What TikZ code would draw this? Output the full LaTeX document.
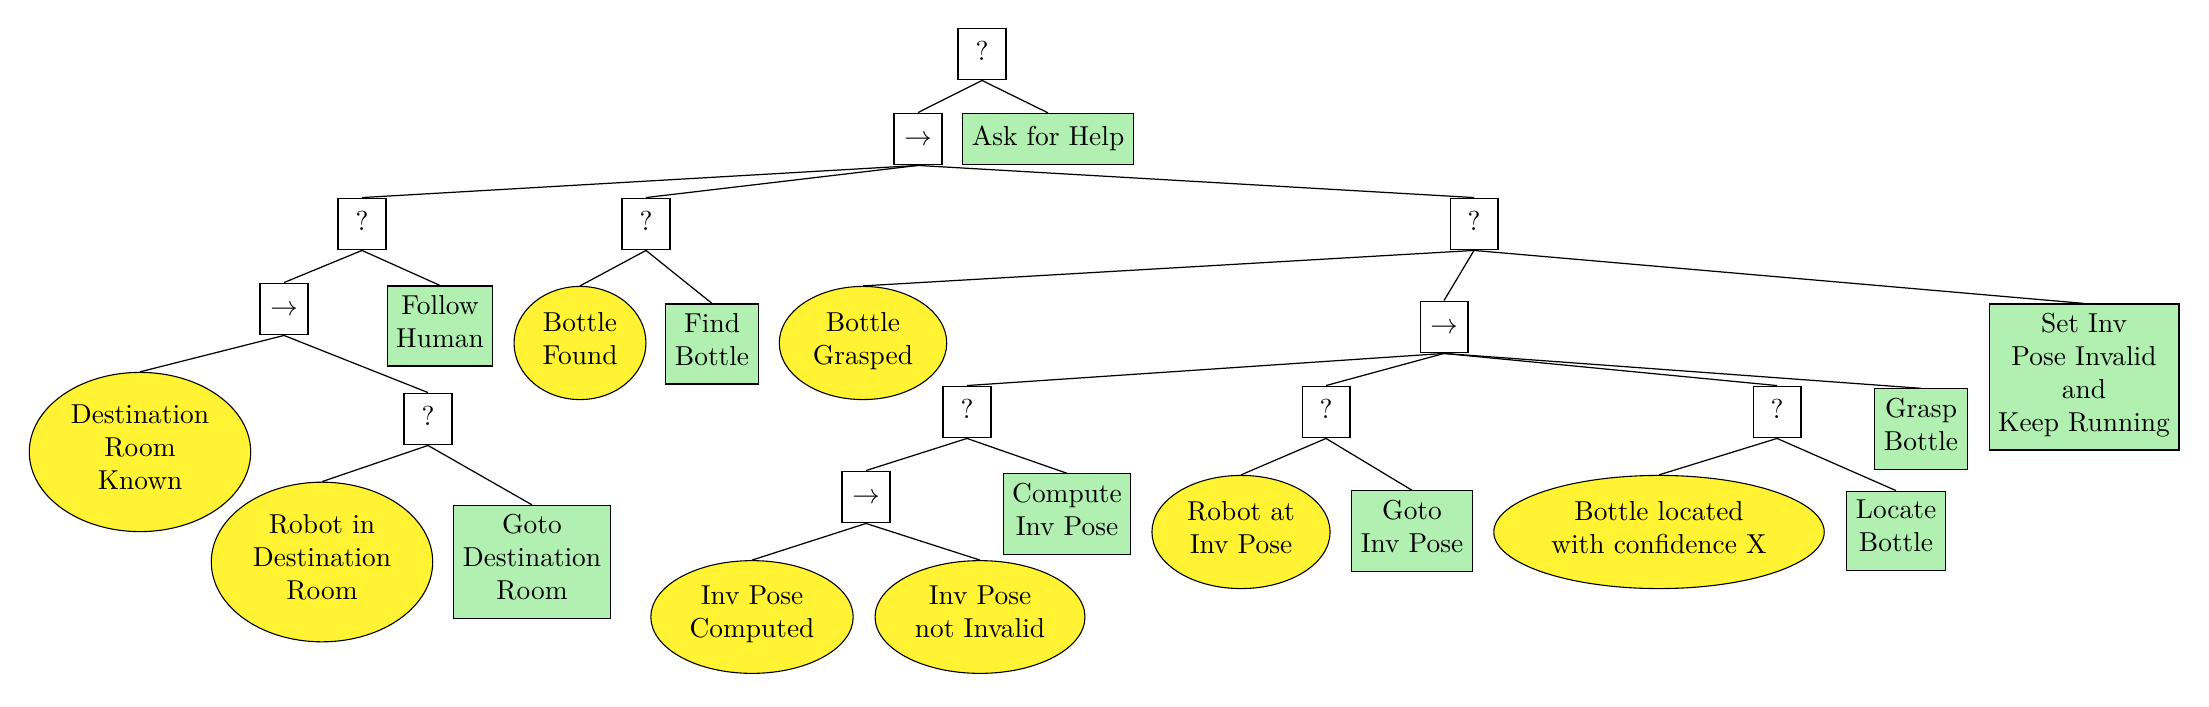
\documentclass[tikz,border=0pt]{standalone}
\usetikzlibrary{shapes.geometric}
\definecolor{condyellow}{RGB}{255,243,51}
\definecolor{actgreen}{RGB}{178,240,178}
\begin{document}
\begin{tikzpicture}[x=0.365pt,y=-0.365pt,
  base/.style={align=center, execute at begin node=\strut, execute at end node=\strut, draw=black},
  ctrl/.style={base, rectangle, minimum width=17.5pt, minimum height=18.9pt, fill=white},
  act/.style={base, rectangle, fill=actgreen},
  cond/.style={base, ellipse, fill=condyellow},
  edge/.style={draw=black, line width=0.45pt}]
\useasboundingbox (0,0) rectangle (2209,706);
% level 0-1
\node[ctrl] (root) at (982,54) {?};
\node[ctrl] (seq1) at (918,139) {$\rightarrow$};
\node[act] (ask) at (1048,139) {Ask for Help};
% level 2
\node[ctrl] (selA) at (362,224) {?};
\node[ctrl] (selD) at (646,224) {?};
\node[ctrl] (selF) at (1474,224) {?};
% level 3
\node[ctrl] (seqB) at (284,309) {$\rightarrow$};
\node[act] (follow) at (440,326) {Follow\\Human};
\node[cond] (bfound) at (580,343) {Bottle\\Found};
\node[act] (find) at (712,344) {Find\\Bottle};
\node[cond] (bgrasp) at (863,343) {Bottle\\Grasped};
\node[ctrl] (seqG) at (1444,327) {$\rightarrow$};
\node[act] (setinv) at (2084,377) {Set Inv\\Pose Invalid\\and\\Keep Running};
% level 4
\node[cond] (drk) at (140,452) {Destination\\Room\\Known};
\node[ctrl] (selC) at (428,419) {?};
\node[ctrl] (selE) at (967,412) {?};
\node[ctrl] (selI) at (1326,412) {?};
\node[ctrl] (selH) at (1777,412) {?};
\node[act] (grasp) at (1921,429) {Grasp\\Bottle};
% level 5
\node[cond] (rdr) at (322,562) {Robot in\\Destination\\Room};
\node[act] (gdr) at (532,562) {Goto\\Destination\\Room};
\node[ctrl] (seqJ) at (866,497) {$\rightarrow$};
\node[act] (compute) at (1067,514) {Compute\\Inv Pose};
\node[cond] (ripose) at (1241,532) {Robot at\\Inv Pose};
\node[act] (goinv) at (1412,531) {Goto\\Inv Pose};
\node[cond] (blocated) at (1659,532) {Bottle located\\with confidence X};
\node[act] (locate) at (1896,531) {Locate\\Bottle};
% level 6
\node[cond] (ipc) at (752,617) {Inv Pose\\Computed};
\node[cond] (ipni) at (980,617) {Inv Pose\\not Invalid};
% edges
\foreach \p/\c in {root/seq1, root/ask,
  seq1/selA, seq1/selD, seq1/selF,
  selA/seqB, selA/follow,
  seqB/drk, seqB/selC,
  selC/rdr, selC/gdr,
  selD/bfound, selD/find,
  selF/bgrasp, selF/seqG, selF/setinv,
  seqG/selE, seqG/selI, seqG/selH, seqG/grasp,
  selE/seqJ, selE/compute,
  seqJ/ipc, seqJ/ipni,
  selI/ripose, selI/goinv,
  selH/blocated, selH/locate}
  \draw[edge] (\p.south) -- (\c.north);
\end{tikzpicture}
\end{document}
